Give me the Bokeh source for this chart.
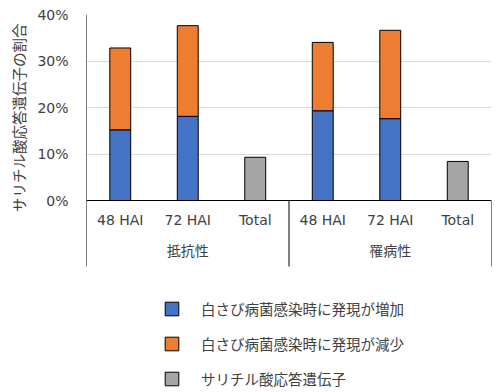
from bokeh.plotting import figure
from bokeh.models import (FactorRange, Range1d, FixedTicker, Legend, LegendItem,
                          ColumnDataSource, Title, NumeralTickFormatter)
from bokeh.core.properties import value
from bokeh.embed import file_html
from bokeh.resources import INLINE

# ---- data ----
groups = ["抵抗性", "罹病性"]
timepoints = ["48 HAI", "72 HAI"]
total_label = "Total"
increased = [0.152, 0.181, 0.193, 0.176]   # 48/72 HAI for 抵抗性, then 罹病性
decreased = [0.176, 0.195, 0.147, 0.190]
sa_total = [0.093, 0.084]
series_names = ["白さび病菌感染時に発現が増加", "白さび病菌感染時に発現が減少", "サリチル酸応答遺伝子"]
y_ticks = [0, 0.1, 0.2, 0.3, 0.4]
y_title = "サリチル酸応答遺伝子の割合"

# ---- styling ----
BLUE, ORANGE, GRAY = "#4472C4", "#ED7D31", "#A5A5A5"
TXT = "#404040"
LATIN = "'DejaVu Sans', 'Noto Sans CJK JP'"
CJK = "'Noto Sans CJK JP'"

Y_MAX = 0.40
Y_MIN = -0.4129
AXIS_BOTTOM = -0.142
SUB_Y = -0.043
GROUP_Y = -0.1075

subcats = timepoints + [total_label]
factors = [(g, c) for g in groups for c in subcats]
hai_factors = [(g, t) for g in groups for t in timepoints]
total_factors = [(g, total_label) for g in groups]

x_range = FactorRange(*factors, factor_padding=0, group_padding=0, range_padding=0)
y_range = Range1d(Y_MIN, Y_MAX)

p = figure(width=500, height=392, x_range=x_range, y_range=y_range,
           output_backend="svg", toolbar_location=None, x_axis_location=None,
           min_border_left=84, min_border_right=9, min_border_top=14, min_border_bottom=0)
p.outline_line_color = None
p.background_fill_color = "white"
p.xgrid.grid_line_color = None

ticker = FixedTicker(ticks=y_ticks)
p.yaxis.ticker = ticker
p.ygrid.ticker = ticker
p.ygrid.grid_line_color = "#d9d9d9"
p.ygrid.grid_line_width = 1
p.yaxis.formatter = NumeralTickFormatter(format="0%")
p.yaxis.axis_line_color = None
p.yaxis.major_tick_line_color = None
p.yaxis.minor_tick_line_color = None
p.yaxis.major_tick_out = 0
p.yaxis.major_tick_in = 0
p.yaxis.major_label_standoff = 18
p.yaxis.major_label_text_font_size = "14px"
p.yaxis.major_label_text_font = LATIN
p.yaxis.major_label_text_color = TXT

# bars
src = ColumnDataSource(dict(x=hai_factors, inc=increased, dec=decreased))
stack = p.vbar_stack(["inc", "dec"], x="x", width=0.31, source=src,
                     fill_color=[BLUE, ORANGE], line_color="black", line_width=1)
tsrc = ColumnDataSource(dict(x=total_factors, top=sa_total))
tot = p.vbar(x="x", top="top", bottom=0, width=0.31, source=tsrc,
             fill_color=GRAY, line_color="black", line_width=1)

# axis line and category separators
n = len(subcats)
bounds = [i * n for i in range(len(groups) + 1)]
p.segment(x0=bounds, x1=bounds, y0=[AXIS_BOTTOM] * len(bounds),
          y1=[Y_MAX] + [0] * (len(bounds) - 1), line_color="black", line_width=1)
p.segment(x0=[0], x1=[bounds[-1]], y0=[0], y1=[0], line_color="black", line_width=1)

# category labels
p.text(x=factors, y=[SUB_Y] * len(factors), text=[f[1] for f in factors],
       text_align="center", text_baseline="middle", text_font=value(LATIN),
       text_font_size="14px", text_color=TXT)
p.text(x=groups, y=[GROUP_Y] * len(groups), text=groups,
       text_align="center", text_baseline="middle", text_font=value(CJK),
       text_font_size="14px", text_color=TXT)

# y title
p.add_layout(Title(text=y_title, align="right", offset=9, text_font=CJK,
                   text_font_size="14.5px", text_font_style="normal",
                   text_color=TXT, standoff=11), "left")

# legend
renderers = [stack[0], stack[1], tot]
items = [LegendItem(label=name, renderers=[r]) for name, r in zip(series_names, renderers)]
legend = Legend(items=items, location=(77, 3), orientation="vertical",
                border_line_color=None, background_fill_alpha=0, padding=0, margin=0,
                spacing=14, glyph_width=17, glyph_height=17, label_standoff=21,
                label_text_font_size="14.5px", label_text_font=CJK, label_text_color=TXT)
p.add_layout(legend)

open("out.html", "w").write(file_html(p, INLINE))
